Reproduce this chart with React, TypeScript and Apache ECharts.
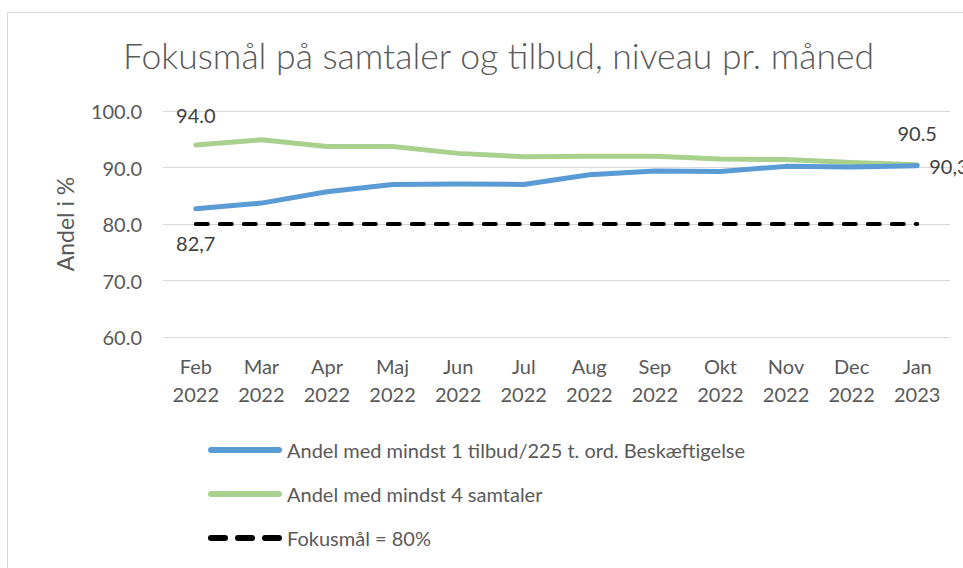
import React, { useEffect, useRef } from "react";
import * as echarts from "echarts";

const months = ["Feb\n2022", "Mar\n2022", "Apr\n2022", "Maj\n2022", "Jun\n2022", "Jul\n2022", "Aug\n2022", "Sep\n2022", "Okt\n2022", "Nov\n2022", "Dec\n2022", "Jan\n2023"];
const tilbud = [82.7, 83.7, 85.7, 87.0, 87.1, 87.0, 88.7, 89.4, 89.3, 90.2, 90.1, 90.3];
const samtaler = [94.0, 94.9, 93.7, 93.7, 92.5, 91.9, 92.0, 92.0, 91.5, 91.4, 90.9, 90.5];
const fokusmaal = [80, 80, 80, 80, 80, 80, 80, 80, 80, 80, 80, 80];
const seriesNames = ["Andel med mindst 1 tilbud/225 t. ord. Beskæftigelse", "Andel med mindst 4 samtaler", "Fokusmål = 80%"];
const yTicks = [60, 70, 80, 90, 100];

const FONT = "Lato, 'Open Sans', sans-serif";
const TXT = "#595959";

const DASH_ICON =
  "path://M3,0H17A3,3 0 0 1 17,6H3A3,3 0 0 1 3,0Z M30,0H44A3,3 0 0 1 44,6H30A3,3 0 0 1 30,0Z M57,0H71A3,3 0 0 1 71,6H57A3,3 0 0 1 57,0Z";
const LINE_ICON = "path://M3,0H71A3,3 0 0 1 71,6H3A3,3 0 0 1 3,0Z";

function endLabels(vals: number[], fmt: (v: number) => string, first: any, last: any) {
  return vals.map((v, i) => {
    if (i === 0) return { value: v, label: { show: true, formatter: fmt(v), ...first } };
    if (i === vals.length - 1) return { value: v, label: { show: true, formatter: fmt(v), ...last } };
    return v;
  });
}

export default function App() {
  const ref = useRef<HTMLDivElement>(null);
  useEffect(() => {
    if (!ref.current) return;
    const chart = echarts.init(ref.current, undefined, { renderer: "svg" });
    const lblStyle = { color: "#404040", fontSize: 20, fontFamily: FONT };
    chart.setOption({
      animation: false,
      backgroundColor: "#ffffff",
      title: {
        text: "Fokusmål på samtaler og tilbud, niveau pr. måned",
        left: 118,
        top: 32,
        textStyle: { color: TXT, fontSize: 35.5, fontWeight: 300, fontFamily: FONT },
      },
      graphic: [
        {
          type: "rect",
          shape: { x: 7.5, y: 12.5, width: 1000, height: 1000 },
          style: { fill: "none", stroke: "#d9d9d9", lineWidth: 1 },
          silent: true,
        },
      ],
      grid: { left: 163, right: 13, top: 111, bottom: 231 },
      legend: {
        orient: "vertical",
        left: 203,
        top: 435,
        itemWidth: 74,
        itemHeight: 6,
        itemGap: 24,
        data: [
          { name: seriesNames[0], icon: LINE_ICON, itemStyle: { color: "#5b9bd5" } },
          { name: seriesNames[1], icon: LINE_ICON, itemStyle: { color: "#a9d18e" } },
          { name: seriesNames[2], icon: DASH_ICON, itemStyle: { color: "#000000" } },
        ],
        textStyle: { color: TXT, fontSize: 20, fontFamily: FONT },
      },
      xAxis: {
        type: "category",
        data: months,
        boundaryGap: true,
        axisLine: { show: true, lineStyle: { color: "#d9d9d9", width: 1 } },
        axisTick: { show: false },
        axisLabel: { color: TXT, fontSize: 20, fontFamily: FONT, margin: 15, lineHeight: 28, interval: 0 },
      },
      yAxis: {
        type: "value",
        min: yTicks[0],
        max: yTicks[yTicks.length - 1],
        interval: 10,
        name: "Andel i %",
        nameLocation: "middle",
        nameGap: 87,
        nameTextStyle: { color: TXT, fontSize: 23, fontFamily: FONT },
        axisLine: { show: false },
        axisTick: { show: false },
        splitLine: { lineStyle: { color: "#d9d9d9", width: 1 } },
        axisLabel: { color: TXT, fontSize: 20, fontFamily: FONT, margin: 21, formatter: (v: number) => v.toFixed(1) },
      },
      series: [
        {
          name: seriesNames[0],
          type: "line",
          symbol: "circle",
          symbolSize: 0,
          showSymbol: true,
          color: "#5b9bd5",
          lineStyle: { width: 5, color: "#5b9bd5", cap: "round", join: "round" },
          data: endLabels(
            tilbud,
            (v) => v.toFixed(1).replace(".", ","),
            { position: "bottom", distance: 24, ...lblStyle },
            { position: "right", distance: 12, ...lblStyle }
          ),
          z: 3,
        },
        {
          name: seriesNames[1],
          type: "line",
          symbol: "circle",
          symbolSize: 0,
          showSymbol: true,
          color: "#a9d18e",
          lineStyle: { width: 5, color: "#a9d18e", cap: "round", join: "round" },
          data: endLabels(
            samtaler,
            (v) => v.toFixed(1),
            { position: "top", distance: 20, ...lblStyle },
            { position: "top", distance: 22, ...lblStyle }
          ),
          z: 2,
        },
        {
          name: seriesNames[2],
          type: "line",
          symbol: "none",
          color: "#000000",
          lineStyle: { width: 4, color: "#000000", type: [12, 12], cap: "round" },
          data: fokusmaal,
          z: 1,
        },
      ],
    });
    return () => chart.dispose();
  }, []);
  return (
    <div
      ref={ref}
      style={{ position: "fixed", left: 0, top: 0, width: 963, height: 568, background: "#fff" }}
    />
  );
}
